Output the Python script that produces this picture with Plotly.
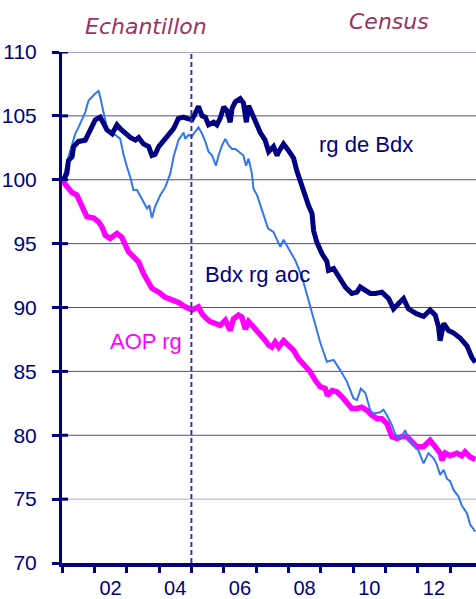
import plotly.graph_objects as go

# decimal years and index values (base 100 in early 2001)
navy_x = [2001.04, 2001.15, 2001.20, 2001.31, 2001.36, 2001.51, 2001.72, 2001.82, 2002.03, 2002.18,
          2002.29, 2002.39, 2002.55, 2002.70, 2002.80, 2002.96, 2003.12, 2003.27, 2003.37, 2003.52,
          2003.68, 2003.78, 2003.88, 2003.99, 2004.14, 2004.30, 2004.45, 2004.60, 2004.76, 2004.86,
          2005.02, 2005.12, 2005.22, 2005.33, 2005.43, 2005.53, 2005.69, 2005.79, 2005.89, 2006.00,
          2006.10, 2006.20, 2006.26, 2006.36, 2006.51, 2006.61, 2006.70, 2006.77, 2006.87, 2006.98,
          2007.13, 2007.28, 2007.39, 2007.54, 2007.65, 2007.70, 2007.85, 2008.00, 2008.16, 2008.26,
          2008.37, 2008.47, 2008.62, 2008.73, 2008.78, 2008.88, 2009.04, 2009.19, 2009.24, 2009.40,
          2009.55, 2009.76, 2009.96, 2010.12, 2010.22, 2010.38, 2010.53, 2010.69, 2010.89, 2011.10,
          2011.25, 2011.40, 2011.56, 2011.71, 2011.97, 2012.18, 2012.38, 2012.54, 2012.64, 2012.69,
          2012.80, 2012.95, 2013.11, 2013.31, 2013.52, 2013.67, 2013.78]
navy_y = [100.0, 100.5, 101.5, 101.8, 102.6, 103.0, 103.1, 103.6, 104.7, 104.9,
          104.4, 103.9, 103.6, 104.3, 104.0, 103.6, 103.3, 103.1, 103.3, 102.8,
          102.6, 101.9, 102.0, 102.6, 103.1, 103.5, 104.0, 104.8, 104.9, 104.8,
          104.7, 105.2, 105.75, 105.0, 104.9, 104.3, 104.5, 104.3, 104.8, 105.7,
          105.4, 104.5, 105.6, 106.1, 106.35, 106.0, 104.5, 105.8, 105.2, 104.4,
          103.7, 103.1, 102.2, 102.6, 101.9, 102.2, 102.8, 102.3, 101.7, 100.7,
          99.8, 99.0, 98.0, 97.35, 96.0, 95.1, 94.2, 93.6, 92.9, 93.05,
          92.4, 91.6, 91.1, 91.2, 91.6, 91.35, 91.1, 91.1, 91.2, 90.7,
          89.9, 90.3, 90.7, 89.9, 89.5, 89.3, 89.8, 89.4, 88.5, 87.4,
          88.75, 88.2, 88.0, 87.6, 87.0, 86.1, 85.7]

blue_x = [2001.02, 2001.10, 2001.20, 2001.31, 2001.41, 2001.51, 2001.62, 2001.72, 2001.82, 2001.93,
          2002.03, 2002.13, 2002.18, 2002.29, 2002.39, 2002.49, 2002.65, 2002.80, 2002.90, 2003.01,
          2003.11, 2003.21, 2003.32, 2003.47, 2003.63, 2003.70, 2003.78, 2003.88, 2004.04, 2004.19,
          2004.35, 2004.45, 2004.60, 2004.76, 2004.81, 2004.91, 2005.02, 2005.07, 2005.22, 2005.33,
          2005.43, 2005.53, 2005.64, 2005.76, 2005.84, 2005.95, 2006.05, 2006.15, 2006.26, 2006.36,
          2006.46, 2006.61, 2006.69, 2006.77, 2006.87, 2006.92, 2007.03, 2007.13, 2007.23, 2007.37,
          2007.54, 2007.75, 2007.85, 2008.00, 2008.21, 2008.42, 2008.62, 2008.78, 2008.98, 2009.19,
          2009.40, 2009.60, 2009.81, 2010.01, 2010.12, 2010.24, 2010.38, 2010.53, 2010.63, 2010.84,
          2010.94, 2011.05, 2011.20, 2011.30, 2011.41, 2011.51, 2011.61, 2011.71, 2011.87, 2012.02,
          2012.18, 2012.33, 2012.49, 2012.59, 2012.69, 2012.80, 2012.90, 2013.00, 2013.11, 2013.26,
          2013.36, 2013.52, 2013.62, 2013.78]
blue_y = [100.0, 100.7, 101.8, 102.8, 103.6, 104.1, 104.7, 105.3, 106.2, 106.5,
          106.75, 106.95, 106.5, 105.2, 104.1, 103.6, 103.5, 103.2, 102.0, 101.0,
          100.2, 99.2, 99.2, 98.5, 97.75, 98.0, 97.0, 97.9, 98.8, 99.4,
          100.5, 101.8, 103.1, 103.7, 103.2, 103.5, 103.4, 103.6, 104.1, 103.6,
          103.0, 102.2, 101.9, 101.1, 101.9, 102.7, 103.2, 102.7, 102.4, 102.4,
          102.2, 101.9, 101.1, 101.65, 100.5, 99.3, 98.8, 98.0, 97.2, 96.2,
          95.9, 94.75, 95.3, 94.6, 93.7, 92.4, 90.6, 89.0, 87.3, 85.75,
          85.9, 85.1, 84.2, 82.9, 82.75, 83.65, 83.3, 81.95, 81.7, 81.8,
          82.0, 81.55, 80.8, 80.1, 79.75, 79.9, 80.4, 79.75, 79.2, 78.8,
          77.8, 78.6, 78.2, 77.7, 76.9, 77.3, 76.6, 76.4, 75.7, 75.2,
          74.5, 73.9, 73.0, 72.45]

mag_x = [2001.00, 2001.10, 2001.20, 2001.31, 2001.46, 2001.62, 2001.77, 2001.98, 2002.13, 2002.24,
         2002.34, 2002.49, 2002.70, 2002.85, 2002.96, 2003.06, 2003.16, 2003.27, 2003.37, 2003.52,
         2003.68, 2003.78, 2003.99, 2004.19, 2004.40, 2004.60, 2004.81, 2005.02, 2005.22, 2005.33,
         2005.48, 2005.58, 2005.74, 2005.89, 2006.05, 2006.20, 2006.30, 2006.46, 2006.56, 2006.67,
         2006.77, 2006.92, 2007.08, 2007.23, 2007.39, 2007.49, 2007.59, 2007.70, 2007.85, 2008.00,
         2008.16, 2008.31, 2008.47, 2008.68, 2008.83, 2008.98, 2009.14, 2009.21, 2009.35, 2009.50,
         2009.66, 2009.81, 2009.96, 2010.12, 2010.27, 2010.43, 2010.58, 2010.74, 2010.89, 2011.05,
         2011.20, 2011.36, 2011.51, 2011.66, 2011.82, 2011.97, 2012.18, 2012.38, 2012.54, 2012.69,
         2012.75, 2012.85, 2013.00, 2013.21, 2013.36, 2013.46, 2013.62, 2013.78]
mag_y = [99.95, 99.6, 99.4, 99.0, 98.8, 98.0, 97.1, 97.0, 96.7, 96.3,
         95.65, 95.4, 95.8, 95.5, 94.9, 94.35, 94.1, 93.8, 93.55, 92.65,
         92.0, 91.5, 91.2, 90.8, 90.6, 90.4, 90.05, 89.8, 90.05, 89.5,
         89.1, 88.9, 88.75, 88.6, 89.0, 88.2, 89.1, 89.4, 89.25, 88.3,
         88.9, 88.5, 88.0, 87.6, 87.05, 86.9, 87.3, 86.9, 87.4, 87.05,
         86.65, 86.0, 85.5, 84.95, 84.3, 83.8, 83.65, 83.1, 83.5, 83.4,
         83.0, 82.6, 82.1, 82.1, 82.2, 81.95, 81.55, 81.3, 81.3, 80.9,
         79.9, 79.75, 79.9, 79.9, 79.4, 79.1, 79.1, 79.6, 79.1, 78.6,
         78.05, 78.6, 78.4, 78.6, 78.4, 78.7, 78.3, 78.1]

year_ticks = [2002.5, 2004.5, 2006.5, 2008.5, 2010.5, 2012.5]
year_labels = ['02', '04', '06', '08', '10', '12']
y_ticks = [70, 75, 80, 85, 90, 95, 100, 105, 110]

NAVY = '#000080'
font_family = 'Arial, Liberation Sans, sans-serif'
comic = 'Comic Sans MS, DejaVu Sans, sans-serif'

fig = go.Figure()
fig.add_trace(go.Scatter(x=mag_x, y=mag_y, mode='lines',
                         line=dict(color='#ff00ff', width=5.5)))
fig.add_trace(go.Scatter(x=blue_x, y=blue_y, mode='lines',
                         line=dict(color='#3377ee', width=2)))
fig.add_trace(go.Scatter(x=navy_x, y=navy_y, mode='lines',
                         line=dict(color=NAVY, width=5)))

# gridlines (the 75 one is paler in the original)
for v in y_ticks[1:]:
    fig.add_shape(type='line', xref='paper', yref='y', x0=0, x1=1, y0=v, y1=v,
                  line=dict(color='#aaaad4' if v == 75 else '#4a4a9e', width=1),
                  layer='below')
    # inner part of the y ticks crossing the axis
    fig.add_shape(type='line', xref='paper', yref='y', x0=0, x1=6 / 414, y0=v, y1=v,
                  line=dict(color=NAVY, width=3))

# sample / census split
fig.add_shape(type='line', xref='x', yref='paper', x0=2005.0, x1=2005.0, y0=0, y1=1,
              line=dict(color='#3a3a90', width=2, dash='5px,3px'))


def label(px, py, text, size, color, family):
    fig.add_annotation(x=(px - 62) / 414, y=1 - (py - 52) / 511, xref='paper', yref='paper',
                       xanchor='center', yanchor='middle', text=text, showarrow=False,
                       font=dict(size=size, color=color, family=family))


# series labels
label(366, 145, 'rg de Bdx', 22, NAVY, font_family)
label(257, 274, 'Bdx rg aoc', 22, NAVY, font_family)
label(146, 341, 'AOP rg', 22, '#ff00ff', font_family)

# period labels
label(146, 26, '<i>Echantillon</i>', 22, '#993366', comic)
label(389, 22, '<i>Census</i>', 22, '#993366', comic)

fig.update_layout(
    width=476, height=599,
    margin=dict(l=62, r=0, t=52, b=36, autoexpand=False),
    paper_bgcolor='white', plot_bgcolor='white',
    showlegend=False,
    font=dict(family=font_family, color=NAVY),
)
fig.update_xaxes(range=[2001.0, 2013.8], showgrid=False, zeroline=False, automargin=False,
                 showline=True, linecolor=NAVY, linewidth=4,
                 tickmode='array', tickvals=year_ticks, ticktext=year_labels,
                 ticks='', ticklabelstandoff=4, tickfont=dict(size=20, color=NAVY),
                 minor=dict(tickmode='linear', tick0=2001, dtick=1, ticks='outside',
                            ticklen=6, tickwidth=3, tickcolor=NAVY, showgrid=False))
fig.update_yaxes(range=[70, 110], showgrid=False, zeroline=False, automargin=False,
                 showline=True, linecolor=NAVY, linewidth=3,
                 tickmode='array', tickvals=y_ticks,
                 ticks='outside', ticklen=7, tickwidth=3, tickcolor=NAVY,
                 ticklabelstandoff=11, tickfont=dict(size=21, color=NAVY))

fig.write_html('out.html', config={'displayModeBar': False},
               post_script="document.body.style.margin='0';")
